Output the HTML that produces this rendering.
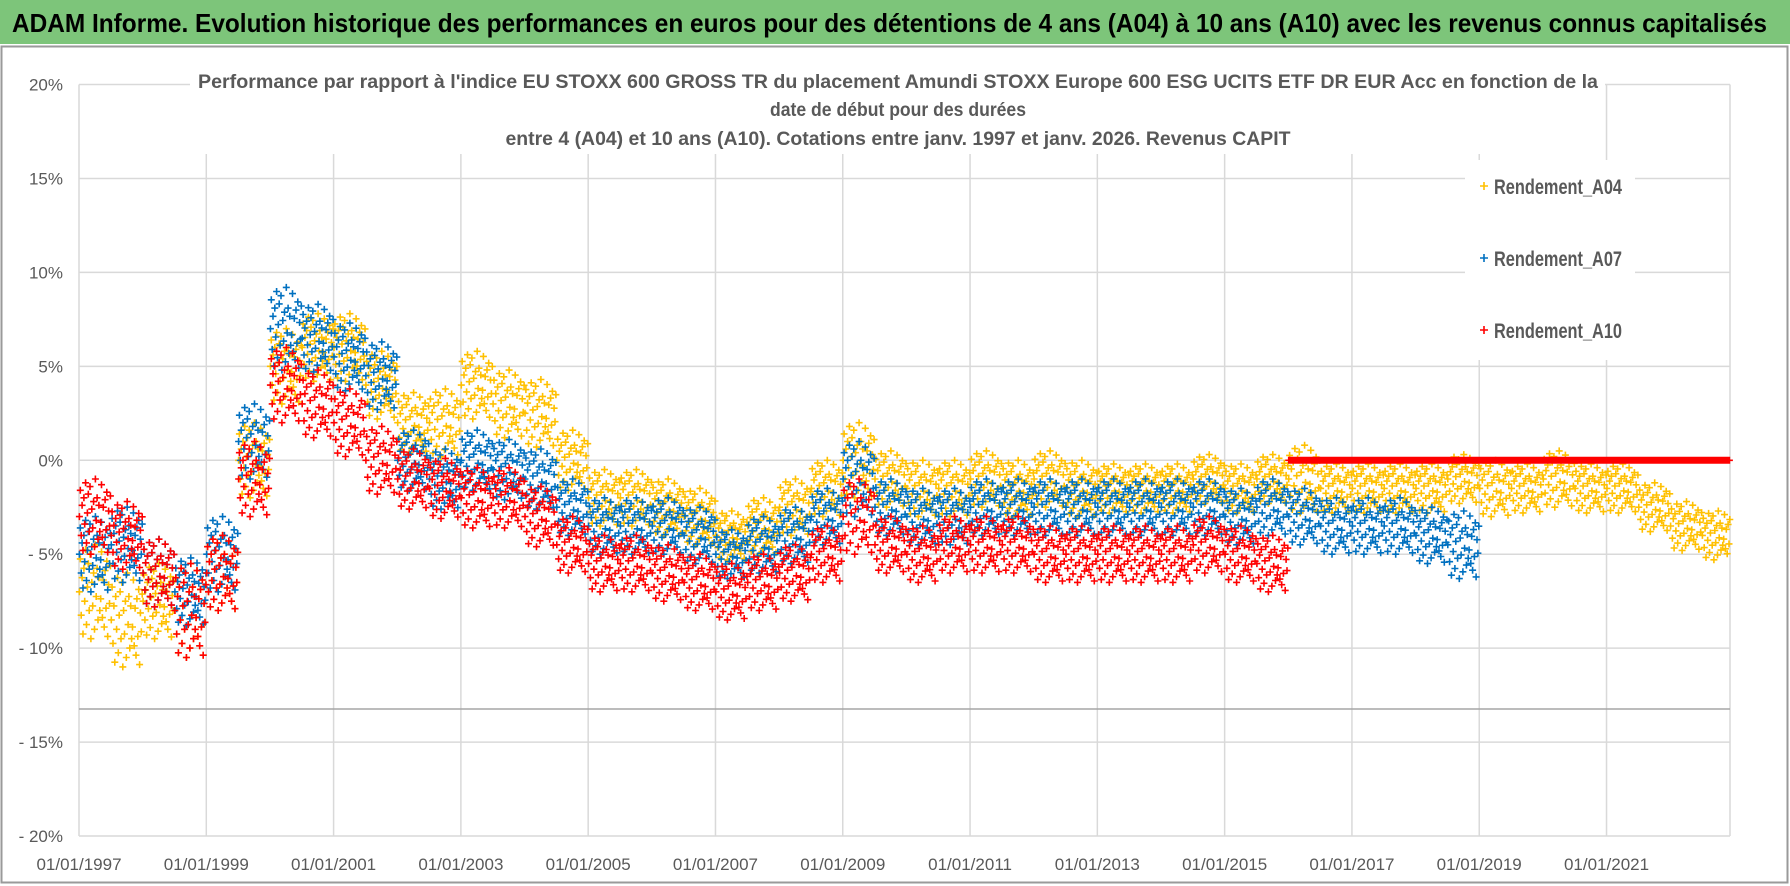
<!DOCTYPE html>
<html><head><meta charset="utf-8">
<style>
html,body{margin:0;padding:0;background:#fff;width:1790px;height:886px;overflow:hidden}
svg{display:block;font-family:"Liberation Sans Narrow","Liberation Sans",sans-serif}
</style></head>
<body>
<svg id="chart" width="1790" height="886">
  <rect x="0" y="0" width="1790" height="886" fill="#fff"/>
  <rect x="0" y="0" width="1790" height="44" fill="#7dc57a"/>
  <text x="12" y="32" font-size="26" font-weight="bold" fill="#000" textLength="1755" lengthAdjust="spacingAndGlyphs">ADAM Informe. Evolution historique des performances en euros pour des détentions de 4 ans (A04) à 10 ans (A10) avec les revenus connus capitalisés</text>
  <rect x="1.5" y="46.5" width="1786" height="836" fill="none" stroke="#9a9a9a" stroke-width="2"/>
  <g id="grid"></g>
  <g id="marks"></g>
  <g id="axes"></g>
  <rect x="190" y="62" width="1415" height="92" fill="#fff"/>
  <text x="898" y="88" font-size="19" font-weight="bold" fill="#595959" text-anchor="middle" textLength="1400" lengthAdjust="spacingAndGlyphs">Performance par rapport à l'indice EU STOXX 600 GROSS TR  du placement Amundi STOXX Europe 600 ESG UCITS ETF DR EUR Acc en fonction de la</text>
  <text x="898" y="116" font-size="19" font-weight="bold" fill="#595959" text-anchor="middle" textLength="256" lengthAdjust="spacingAndGlyphs">date de début pour des durées</text>
  <text x="898" y="145" font-size="19" font-weight="bold" fill="#595959" text-anchor="middle" textLength="785" lengthAdjust="spacingAndGlyphs">entre 4 (A04) et 10 ans (A10).  Cotations entre janv. 1997 et janv. 2026. Revenus CAPIT</text>
  <g>
    <rect x="1465" y="160" width="170" height="200" fill="#fff"/>
    <g>
      <path d="M1480 186h8M1484 182v8" stroke="#ffc000" stroke-width="1.6"/>
      <text x="1494" y="194" font-size="21" font-weight="bold" fill="#595959" textLength="128" lengthAdjust="spacingAndGlyphs">Rendement_A04</text>
    </g>
    <g>
      <path d="M1480 258h8M1484 254v8" stroke="#0070c0" stroke-width="1.6"/>
      <text x="1494" y="266" font-size="21" font-weight="bold" fill="#595959" textLength="128" lengthAdjust="spacingAndGlyphs">Rendement_A07</text>
    </g>
    <g>
      <path d="M1480 330h8M1484 326v8" stroke="#ff0000" stroke-width="1.6"/>
      <text x="1494" y="338" font-size="21" font-weight="bold" fill="#595959" textLength="128" lengthAdjust="spacingAndGlyphs">Rendement_A10</text>
    </g>
  </g>
</svg>
<script>
// ---- data (half-year means, in %) ----
const startYear = 1997;
const yTicks = [20, 15, 10, 5, 0, -5, -10, -15, -20];
const xTickLabels = ["01/01/1997","01/01/1999","01/01/2001","01/01/2003","01/01/2005","01/01/2007","01/01/2009","01/01/2011","01/01/2013","01/01/2015","01/01/2017","01/01/2019","01/01/2021"];
const a04Values = [-7,-8.5,-7.5,-8,-6,0,5,6,6,4,2,2,4,3,2.5,0,-2,-2,-2.5,-3,-4,-3.5,-2.5,-1.5,0,-1,-1.5,-1.5,-1,-1.5,-1,-1.5,-1.5,-1.5,-1.5,-1,-1.5,-1,-1,-1.5,-1.5,-1.5,-1.5,-1,-1.5,-1.5,-1,-1.5,-1.5,-2.5,-3.5,-4];
const a04Spread = [2.5,2.5,2,2.5,2,2,2,1.8,1.8,1.8,1.6,1.8,1.8,1.8,1.8,1.6,1.5,1.5,1.5,1.5,1.3,1.5,1.5,1.5,2,1.5,1.5,1.5,1.5,1.5,1.5,1.5,1.3,1.3,1.3,1.3,1.3,1.3,1.8,1.3,1.3,1.3,1.3,1.3,1.5,1.3,1.5,1.3,1.3,1.3,1.3,1.3];
const a07Values = [-5,-4.5,-6,-7,-5,1,7,6.5,5.5,4.5,0,-1,0,-0.5,-1,-2.5,-3.5,-3.5,-3.5,-4,-5,-4.5,-4,-3,-1,-2.5,-3,-3,-2.5,-2.5,-2.5,-2.5,-2.5,-2.5,-2.5,-2.5,-3,-2.5,-3,-3.5,-3.5,-3.5,-4,-4.5];
const a07Spread = [2,2,1.8,1.8,2,2,2.2,1.8,1.8,1.8,1.6,1.6,1.6,1.6,1.6,1.5,1.5,1.5,1.5,1.5,1.3,1.5,1.5,1.5,2,1.5,1.5,1.5,1.5,1.5,1.5,1.5,1.5,1.5,1.5,1.5,1.5,1.5,1.5,1.5,1.5,1.5,1.5,1.8];
const a10Values = [-3,-4,-6,-8,-6,-1,4,3,2,0,-1,-1.5,-2,-2,-3,-4.5,-5.5,-5.5,-6,-6.5,-7,-6.5,-6,-5,-3,-4.5,-5,-4.5,-4.5,-4.5,-5,-5,-5,-5,-5,-4.5,-5,-5.5,0,0,0,0,0,0,0,0,0,0,0,0,0,0,0];
const a10Spread = [2,1.8,1.8,2.5,2,2,2,1.8,1.8,1.8,1.6,1.6,1.6,1.6,1.6,1.5,1.5,1.5,1.5,1.5,1.5,1.5,1.5,1.5,2,1.5,1.5,1.5,1.5,1.5,1.5,1.5,1.5,1.5,1.5,1.5,1.5,1.5,0,0,0,0,0,0,0,0,0,0,0,0,0,0,0];
const jitter = [0.0,0.7,-0.5,0.3,-0.9,0.5,-0.2,0.9,-0.7,0.1,0.6,-0.4,0.8,-1.0,0.2,-0.3,0.4,-0.8,1.0,-0.1,0.5,-0.6,0.3,-0.4,-0.15,0.85,-0.55,0.25,-0.75,0.45,-0.35,0.65,-0.95,0.15,-0.25,0.55];

// ---- scales ----
const X0 = 79, X1 = 1730, Y0 = 84.5, Y1 = 836;
const yearMax = 2022.94;
function xScale(t){ return X0 + (t - startYear) / (yearMax - startYear) * (X1 - X0); }
function yScale(v){ return Y0 + (20 - v) / 40 * (Y1 - Y0); }

const NS = "http://www.w3.org/2000/svg";
const grid = document.getElementById("grid");
const axes = document.getElementById("axes");
const marks = document.getElementById("marks");

yTicks.forEach(v => {
  const l = document.createElementNS(NS, "line");
  l.setAttribute("x1", X0); l.setAttribute("x2", X1);
  l.setAttribute("y1", yScale(v)); l.setAttribute("y2", yScale(v));
  l.setAttribute("stroke", "#d9d9d9"); l.setAttribute("stroke-width", "1.5");
  
  
  grid.appendChild(l);
  const t = document.createElementNS(NS, "text");
  t.setAttribute("x", 63); t.setAttribute("y", yScale(v) + 6);
  t.setAttribute("text-anchor", "end"); t.setAttribute("font-size", "17"); t.setAttribute("fill", "#595959");
  t.textContent = (v < 0 ? "- " + (-v) : v) + "%";
  
  
  axes.appendChild(t);
});
xTickLabels.forEach((lab, i) => {
  const yr = startYear + 2 * i;
  const x = xScale(yr);
  const l = document.createElementNS(NS, "line");
  l.setAttribute("x1", x); l.setAttribute("x2", x);
  l.setAttribute("y1", Y0); l.setAttribute("y2", Y1);
  l.setAttribute("stroke", "#d9d9d9"); l.setAttribute("stroke-width", "1.5");
  
  
  grid.appendChild(l);
  const t = document.createElementNS(NS, "text");
  t.setAttribute("x", x); t.setAttribute("y", 870);
  t.setAttribute("text-anchor", "middle"); t.setAttribute("font-size", "17"); t.setAttribute("fill", "#595959");
  t.textContent = lab;
  
  
  axes.appendChild(t);
});
const rb = document.createElementNS(NS, "line");
rb.setAttribute("x1", X1); rb.setAttribute("x2", X1); rb.setAttribute("y1", Y0); rb.setAttribute("y2", Y1);
rb.setAttribute("stroke", "#d9d9d9"); rb.setAttribute("stroke-width", "1.5");


grid.appendChild(rb);
const ref = document.createElementNS(NS, "line");
ref.setAttribute("x1", X0); ref.setAttribute("x2", X1); ref.setAttribute("y1", 709); ref.setAttribute("y2", 709);
ref.setAttribute("stroke", "#a6a6a6"); ref.setAttribute("stroke-width", "1.5");


grid.appendChild(ref);

function drawSeries(values, spread, color, name){
  let d = "";
  values.forEach((v, i) => {
    const t0 = startYear + i * 0.5;
    const n = spread[i] === 0 ? 40 : jitter.length;
    for (let k = 0; k < n; k++) {
      const t = t0 + (k + 0.5) / n * 0.5;
      if (t > yearMax) continue;
      const val = v + (spread[i] === 0 ? 0 : spread[i] * jitter[k]);
      const x = xScale(t), y = yScale(val);
      d += "M" + (x - 3.5).toFixed(1) + " " + y.toFixed(1) + "h7M" + x.toFixed(1) + " " + (y - 3.5).toFixed(1) + "v7";
    }
  });
  const p = document.createElementNS(NS, "path");
  p.setAttribute("d", d);
  p.setAttribute("stroke", color);
  p.setAttribute("stroke-width", "1.6");
  p.setAttribute("fill", "none");
  
  
  marks.appendChild(p);
}
drawSeries(a04Values, a04Spread, "#ffc000", "series-a04");
drawSeries(a07Values, a07Spread, "#0070c0", "series-a07");
drawSeries(a10Values, a10Spread, "#ff0000", "series-a10");
</script>
</body></html>
